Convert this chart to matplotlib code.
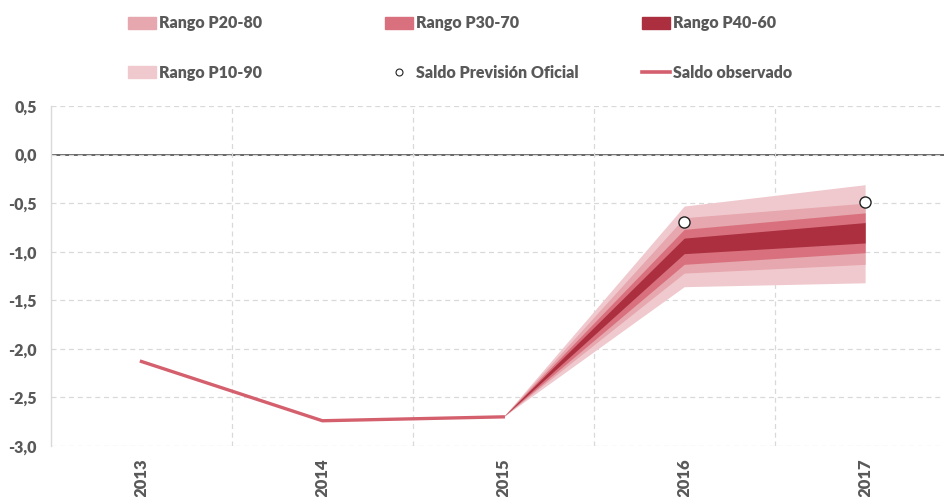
import matplotlib.pyplot as plt
from matplotlib.patches import Patch
from matplotlib.lines import Line2D
from matplotlib.ticker import FixedLocator, FuncFormatter

plt.rcParams['font.family'] = ['Lato', 'DejaVu Sans']

years = ['2013', '2014', '2015', '2016', '2017']
observado = [-2.13, -2.74, -2.70]  # 2013-2015
prevision = [-0.69, -0.49]  # 2016-2017

# bandas de 2015 a 2017
p10 = [-2.70, -1.36, -1.32]
p90 = [-2.70, -0.53, -0.31]
p20 = [-2.70, -1.22, -1.13]
p80 = [-2.70, -0.65, -0.50]
p30 = [-2.70, -1.13, -1.01]
p70 = [-2.70, -0.77, -0.60]
p40 = [-2.70, -1.02, -0.91]
p60 = [-2.70, -0.86, -0.70]

c10 = '#f0c9ce'
c20 = '#e6a7ae'
c30 = '#d8717d'
c40 = '#ab2f3f'
cobs = '#d45f6d'
gris = '#595959'
peso = 'heavy'

fig = plt.figure(figsize=(9.44, 4.97), dpi=100)
ax = fig.add_axes([51/944, 1-446/497, 1-51/944, (446-106)/497])

xb = [2, 3, 4]
ax.fill_between(xb, p10, p90, color=c10, lw=0, zorder=2)
ax.fill_between(xb, p20, p80, color=c20, lw=0, zorder=3)
ax.fill_between(xb, p30, p70, color=c30, lw=0, zorder=4)
ax.fill_between(xb, p40, p60, color=c40, lw=0, zorder=5)
ax.plot(range(len(observado)), observado, color=cobs, lw=2.4, zorder=6)
ax.plot([3, 4], prevision, 'o', ms=8, mfc='white', mec='#222222', mew=1, zorder=7)

ax.axhline(0, color='#666666', lw=1.4, zorder=1)

ax.set_ylim(-3.0, 0.5)
ax.set_xlim(-0.5, 4.436)
ax.set_yticks([0.5, 0, -0.5, -1, -1.5, -2, -2.5, -3])
ax.yaxis.set_major_formatter(FuncFormatter(lambda v, p: f'{v:.1f}'.replace('.', ',')))
ax.set_xticks(range(len(years)))
ax.set_xticklabels(years, rotation=90)
ax.xaxis.set_minor_locator(FixedLocator([0.5, 1.5, 2.5, 3.5]))

ax.tick_params(axis='both', which='both', length=0, colors=gris, labelsize=11.5)
ax.tick_params(axis='y', pad=10)
ax.tick_params(axis='x', pad=9, labelsize=12)
for lab in ax.get_xticklabels() + ax.get_yticklabels():
    lab.set_fontweight(peso)

ax.grid(axis='y', which='major', color='#d9d9d9', ls=(0, (4, 3)), lw=0.9, zorder=0)
ax.grid(axis='x', which='minor', color='#d9d9d9', ls=(0, (4, 3)), lw=0.9, zorder=0)

for s in ['top', 'right', 'bottom']:
    ax.spines[s].set_visible(False)
ax.spines['left'].set_color('#d9d9d9')
ax.spines['left'].set_linewidth(1)

# leyenda en tres columnas con inicio fijo
columnas = [
    [Patch(color=c20, label='Rango P20-80'), Patch(color=c10, label='Rango P10-90')],
    [Patch(color=c30, label='Rango P30-70'),
     Line2D([], [], ls='none', marker='o', ms=5, mfc='white', mec='#222222', mew=0.8,
            label='Saldo Previsión Oficial')],
    [Patch(color=c40, label='Rango P40-60'),
     Line2D([], [], color=cobs, lw=2.6, label='Saldo observado')],
]
for i, hs in enumerate(columnas):
    leg = fig.legend(handles=hs, loc='upper left',
                     bbox_to_anchor=((122 + 257 * i) / 944 - 0.0085, 1 - 1 / 497),
                     frameon=False, fontsize=11.5, handlelength=1.7, handleheight=0.75,
                     handletextpad=0.2, labelspacing=2.1, borderpad=0.4)
    for t in leg.get_texts():
        t.set_color(gris)
        t.set_fontweight(peso)

fig.savefig('out.png', dpi=100)
